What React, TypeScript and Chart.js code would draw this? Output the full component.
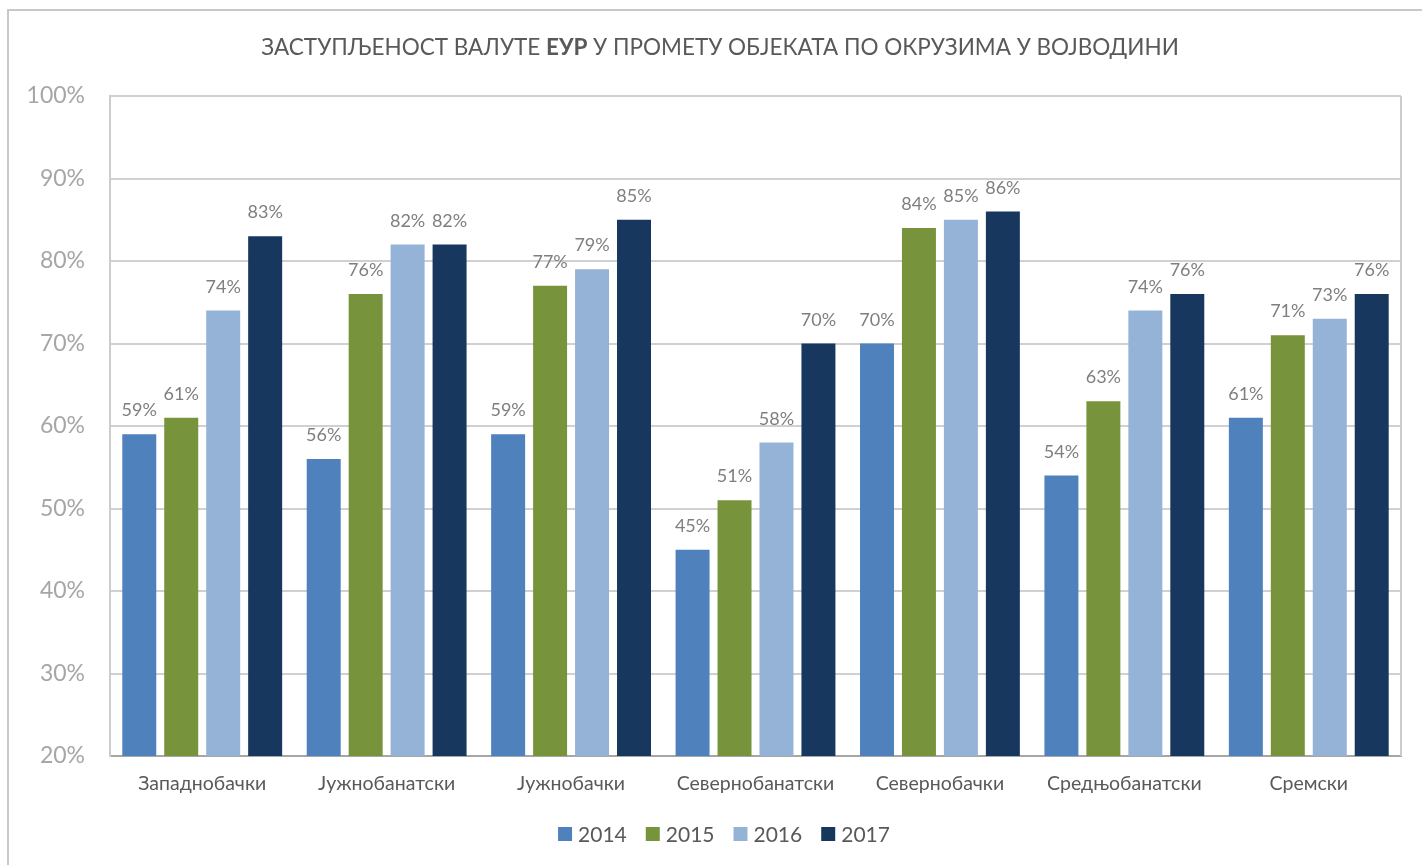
import React, { useEffect, useRef } from 'react';
import { Chart, registerables } from 'chart.js';

Chart.register(...registerables);

const categories = ['Западнобачки', 'Јужнобанатски', 'Јужнобачки', 'Севернобанатски', 'Севернобачки', 'Средњобанатски', 'Сремски'];
const years = ['2014', '2015', '2016', '2017'];
const values2014 = [59, 56, 59, 45, 70, 54, 61];
const values2015 = [61, 76, 77, 51, 84, 63, 71];
const values2016 = [74, 82, 79, 58, 85, 74, 73];
const values2017 = [83, 82, 85, 70, 86, 76, 76];
const seriesValues = [values2014, values2015, values2016, values2017];
const seriesColors = ['#4f81bd', '#77933c', '#95b3d7', '#17375e'];
const yMin = 20;
const yMax = 100;
const yStep = 10;
const titleParts = [
  { text: 'ЗАСТУПЉЕНОСТ ВАЛУТЕ ', bold: false },
  { text: 'ЕУР', bold: true },
  { text: ' У ПРОМЕТУ ОБЈЕКАТА ПО ОКРУЗИМА У ВОЈВОДИНИ', bold: false },
];

const FONT = 'Lato, "Open Sans", sans-serif';

const framePlugin = {
  id: 'frame',
  beforeDraw(chart: any) {
    const ctx = chart.ctx;
    ctx.save();
    ctx.fillStyle = '#ffffff';
    ctx.fillRect(0, 0, chart.width, chart.height);
    ctx.strokeStyle = '#c8c8c8';
    ctx.lineWidth = 2;
    ctx.beginPath();
    ctx.moveTo(8, chart.height);
    ctx.lineTo(8, 10);
    ctx.lineTo(chart.width, 10);
    ctx.stroke();
    ctx.restore();
  },
  beforeDatasetsDraw(chart: any) {
    const { ctx, chartArea } = chart;
    ctx.save();
    ctx.strokeStyle = '#cccccc';
    ctx.lineWidth = 2;
    ctx.beginPath();
    ctx.moveTo(chartArea.right, chartArea.top);
    ctx.lineTo(chartArea.right, chartArea.bottom);
    ctx.stroke();
    ctx.restore();
  },
};

const titlePlugin = {
  id: 'customTitle',
  afterDraw(chart: any) {
    const ctx = chart.ctx;
    ctx.save();
    const size = 22.5;
    let total = 0;
    const widths = titleParts.map((p) => {
      ctx.font = `${p.bold ? 'bold ' : ''}${size}px ${FONT}`;
      const w = ctx.measureText(p.text).width;
      total += w;
      return w;
    });
    let x = 720 - total / 2;
    ctx.fillStyle = '#595959';
    ctx.textBaseline = 'alphabetic';
    ctx.textAlign = 'left';
    titleParts.forEach((p, i) => {
      ctx.font = `${p.bold ? 'bold ' : ''}${size}px ${FONT}`;
      ctx.fillText(p.text, x, 55);
      x += widths[i];
    });
    ctx.restore();
  },
};

const legendPlugin = {
  id: 'customLegend',
  afterDraw(chart: any) {
    const ctx = chart.ctx;
    ctx.save();
    ctx.font = `21px ${FONT}`;
    const box = 14;
    const gapText = 6;
    const gapItem = 19;
    const widths = chart.data.datasets.map((ds: any) => box + gapText + ctx.measureText(ds.label).width);
    const total = widths.reduce((a: number, b: number) => a + b, 0) + gapItem * (widths.length - 1);
    let x = 724 - total / 2;
    const cy = 834;
    ctx.textBaseline = 'middle';
    ctx.textAlign = 'left';
    chart.data.datasets.forEach((ds: any, i: number) => {
      ctx.fillStyle = ds.backgroundColor;
      ctx.fillRect(x, cy - box / 2, box, box);
      ctx.fillStyle = '#595959';
      ctx.fillText(ds.label, x + box + gapText, cy + 1);
      x += widths[i] + gapItem;
    });
    ctx.restore();
  },
};

const labelPlugin = {
  id: 'barLabels',
  afterDatasetsDraw(chart: any) {
    const ctx = chart.ctx;
    ctx.save();
    ctx.font = `18px ${FONT}`;
    ctx.fillStyle = '#7f7f7f';
    ctx.textAlign = 'center';
    ctx.textBaseline = 'alphabetic';
    chart.data.datasets.forEach((ds: any, di: number) => {
      const meta = chart.getDatasetMeta(di);
      meta.data.forEach((bar: any, i: number) => {
        ctx.fillText(`${ds.data[i]}%`, bar.x, bar.y - 18);
      });
    });
    ctx.restore();
  },
};

export default function App() {
  const canvasRef = useRef<HTMLCanvasElement>(null);

  useEffect(() => {
    if (!canvasRef.current) return;
    const chart = new Chart(canvasRef.current, {
      type: 'bar',
      data: {
        labels: categories,
        datasets: years.map((y, i) => ({
          label: y,
          data: seriesValues[i],
          backgroundColor: seriesColors[i],
          borderWidth: 0,
          categoryPercentage: 0.91,
          barPercentage: 0.81,
        })),
      },
      options: {
        animation: false,
        responsive: true,
        maintainAspectRatio: false,
        layout: { padding: { top: 96, right: 21, bottom: 61, left: 0 } },
        plugins: {
          title: { display: false },
          tooltip: { enabled: false },
          legend: { display: false },
        },
        scales: {
          x: {
            grid: { display: false, drawTicks: false },
            border: { display: true, color: '#a6a6a6', width: 2 },
            ticks: { color: '#595959', font: { family: FONT, size: 19.5 }, padding: 16 },
            afterFit: (scale: any) => {
              scale.height = 48;
            },
          },
          y: {
            min: yMin,
            max: yMax,
            ticks: {
              stepSize: yStep,
              color: '#a6a6a6',
              font: { family: FONT, size: 23 },
              padding: 25,
              callback: (v: any) => `${v}%`,
            },
            grid: { color: '#d0d0d0', lineWidth: 2, drawTicks: false },
            border: { display: true, color: '#cccccc', width: 2 },
            afterFit: (scale: any) => {
              scale.width = 110;
            },
          },
        },
      },
      plugins: [framePlugin, titlePlugin, legendPlugin, labelPlugin],
    });
    return () => chart.destroy();
  }, []);

  return (
    <div style={{ position: 'fixed', left: 0, top: 0, width: 1422, height: 865, background: '#fff' }}>
      <canvas ref={canvasRef} />
    </div>
  );
}
